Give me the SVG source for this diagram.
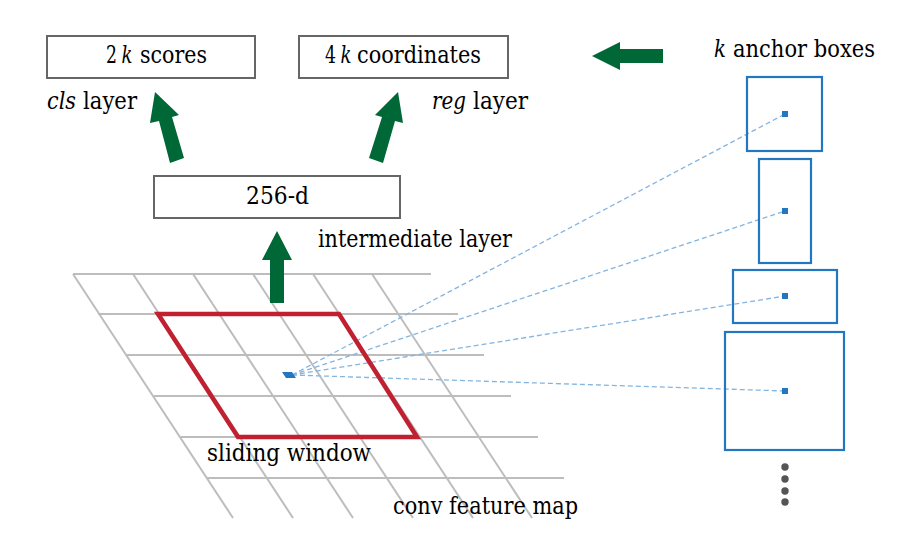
<svg xmlns="http://www.w3.org/2000/svg" width="908" height="536" viewBox="0 0 908 536">
<style>
.t{font-family:'DejaVu Serif','Liberation Serif',serif;font-size:24px;fill:#000}
.i{font-style:italic}
.box{fill:#fff;stroke:#666;stroke-width:2}
.grid{stroke:#bdbdbd;stroke-width:2;fill:none}
.arrow{fill:#006837}
.anchor{fill:none;stroke:#2277c0;stroke-width:2.2}
.ctr{fill:#2277c0}
.dash{stroke:#84b4e0;stroke-width:1.3;stroke-dasharray:5 3;fill:none}
.dot{fill:#555}
</style>
<rect width="908" height="536" fill="#fff"/>
<g id="feature-map">
  <g class="grid">
    <line x1="73" y1="274" x2="431" y2="274"/>
    <line x1="98" y1="314" x2="458" y2="314"/>
    <line x1="127" y1="355" x2="484" y2="355"/>
    <line x1="154" y1="396" x2="511" y2="396"/>
    <line x1="181" y1="437" x2="538" y2="437"/>
    <line x1="207" y1="478" x2="564" y2="478"/>
    <line x1="73" y1="274" x2="233" y2="518"/>
    <line x1="133" y1="274" x2="293" y2="518"/>
    <line x1="193" y1="274" x2="353" y2="518"/>
    <line x1="253" y1="274" x2="413" y2="518"/>
    <line x1="313" y1="274" x2="473" y2="518"/>
    <line x1="372" y1="274" x2="532" y2="518"/>
  </g>
</g>
<g id="connectors">
  <line class="dash" x1="292" y1="375" x2="785" y2="114"/>
  <line class="dash" x1="292" y1="375" x2="785" y2="211"/>
  <line class="dash" x1="292" y1="375" x2="785" y2="296"/>
  <line class="dash" x1="292" y1="375" x2="785" y2="391"/>
  <polygon class="arrow" points="155,92 179,115 172,117 184,158 170,163 159,121 150,123"/>
  <polygon class="arrow" points="398,92 403,123 395,121 383,163 369,158 382,117 375,115"/>
  <polygon class="arrow" points="277,231 292,260 284,260 284,303 270,303 270,260 262,260"/>
  <polygon class="arrow" points="592,56 620,42 620,49 663,49 663,63 620,63 620,70"/>
</g>
<g id="sliding-window">
  <polygon points="158,314 339,314 417,437 238,437" fill="none" stroke="#c0202f" stroke-width="4.5" stroke-linejoin="miter"/>
  <polygon points="282,372 292,372 296,378 286,378" fill="#2277c0"/>
  <text class="t" x="207" y="461" textLength="164" lengthAdjust="spacingAndGlyphs">sliding window</text>
</g>
<g id="conv-label">
  <text class="t" x="393" y="514" textLength="185" lengthAdjust="spacingAndGlyphs">conv feature map</text>
</g>
<g id="cls">
  <rect class="box" x="47" y="36" width="208" height="42"/>
  <text class="t" x="106" y="63" textLength="11" lengthAdjust="spacingAndGlyphs">2</text>
  <text class="t i" x="121.5" y="63" textLength="11" lengthAdjust="spacingAndGlyphs">k</text>
  <text class="t" x="140" y="63" textLength="67" lengthAdjust="spacingAndGlyphs">scores</text>
  <text class="t i" x="47" y="109" textLength="29" lengthAdjust="spacingAndGlyphs">cls</text>
  <text class="t" x="83" y="109" textLength="54" lengthAdjust="spacingAndGlyphs">layer</text>
</g>
<g id="reg">
  <rect class="box" x="299" y="36" width="209" height="42"/>
  <text class="t" x="325" y="63" textLength="11" lengthAdjust="spacingAndGlyphs">4</text>
  <text class="t i" x="340.5" y="63" textLength="11" lengthAdjust="spacingAndGlyphs">k</text>
  <text class="t" x="357" y="63" textLength="124" lengthAdjust="spacingAndGlyphs">coordinates</text>
  <text class="t i" x="432" y="109" textLength="34" lengthAdjust="spacingAndGlyphs">reg</text>
  <text class="t" x="473" y="109" textLength="55" lengthAdjust="spacingAndGlyphs">layer</text>
</g>
<g id="intermediate">
  <rect class="box" x="154" y="176" width="246" height="42"/>
  <text class="t" x="246" y="204" textLength="63" lengthAdjust="spacingAndGlyphs">256-d</text>
  <text class="t" x="318" y="247" textLength="194" lengthAdjust="spacingAndGlyphs">intermediate layer</text>
</g>
<g id="anchors">
  <text class="t i" x="714" y="57" textLength="12" lengthAdjust="spacingAndGlyphs">k</text>
  <text class="t" x="733" y="57" textLength="142" lengthAdjust="spacingAndGlyphs">anchor boxes</text>
  <rect class="anchor" x="747" y="77" width="75" height="74"/>
  <rect class="ctr" x="782" y="111" width="6" height="6"/>
  <rect class="anchor" x="759" y="159" width="52" height="104"/>
  <rect class="ctr" x="782" y="208" width="6" height="6"/>
  <rect class="anchor" x="733" y="270" width="104" height="53"/>
  <rect class="ctr" x="782" y="293" width="6" height="6"/>
  <rect class="anchor" x="725" y="332" width="119" height="118"/>
  <rect class="ctr" x="782" y="388" width="6" height="6"/>
  <circle class="dot" cx="785" cy="467" r="3.7"/>
  <circle class="dot" cx="785" cy="479" r="3.7"/>
  <circle class="dot" cx="785" cy="491" r="3.7"/>
  <circle class="dot" cx="785" cy="502" r="3.7"/>
</g>
</svg>
